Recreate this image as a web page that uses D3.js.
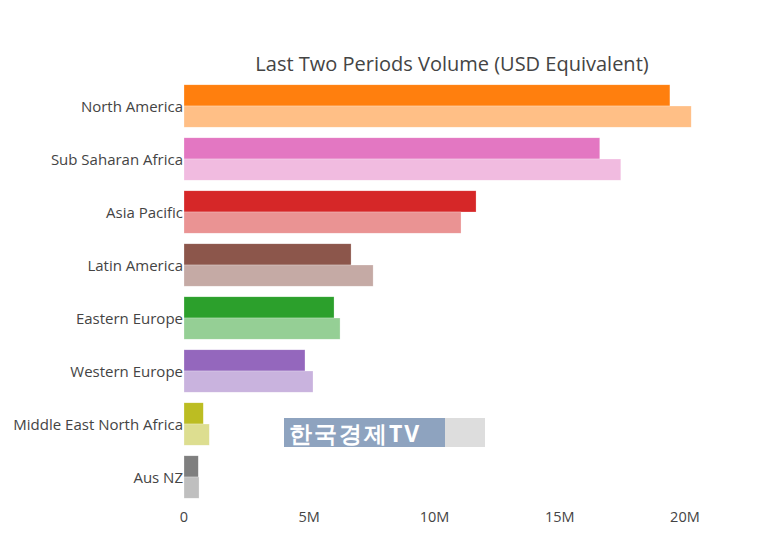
<!DOCTYPE html>
<html>
<head>
<meta charset="utf-8">
<script src="https://cdn.jsdelivr.net/npm/d3@7"></script>
<style>
  body { margin: 0; background: #fff; }
  text { font-family: "Open Sans", sans-serif; }
</style>
</head>
<body>
<div id="chart"></div>
<script>
// data (millions USD)
var regions = ["North America", "Sub Saharan Africa", "Asia Pacific", "Latin America",
               "Eastern Europe", "Western Europe", "Middle East North Africa", "Aus NZ"];
var latest   = [19.4, 16.6, 11.66, 6.67, 5.99, 4.83, 0.77, 0.57];
var previous = [20.25, 17.44, 11.06, 7.55, 6.23, 5.15, 1.01, 0.6];
var colors = ["#ff7f0e", "#e377c2", "#d62728", "#8c564b", "#2ca02c", "#9467bd", "#bcbd22", "#7f7f7f"];
var ticks = [0, 5, 10, 15, 20];

var width = 770, height = 547;
var margin = {top: 79.5, right: 50, bottom: 43.5, left: 184};

var svg = d3.select("#chart").append("svg")
    .attr("width", width)
    .attr("height", height);

var x = d3.scaleLinear().domain([0, 21.4]).range([margin.left, width - margin.right]);
var y = d3.scaleBand().domain(regions).range([margin.top, height - margin.bottom]).paddingInner(0.2).paddingOuter(0.1);

var half = y.bandwidth() / 2;

var rows = regions.map(function(r, i) {
    return {name: r, a: latest[i], b: previous[i], c: colors[i]};
});

var g = svg.append("g");

// darker bar = last period, on top
g.selectAll("rect.a")
    .data(rows)
    .enter()
    .append("rect")
    .attr("class", "a")
    .attr("x", x(0))
    .attr("y", function(d) { return y(d.name); })
    .attr("width", function(d) { return x(d.a) - x(0); })
    .attr("height", half)
    .attr("fill", function(d) { return d.c; })
    .attr("stroke", "#fff")
    .attr("stroke-opacity", 0.5)
    .attr("stroke-width", 0.5);

// lighter bar = period before
g.selectAll("rect.b")
    .data(rows)
    .enter()
    .append("rect")
    .attr("class", "b")
    .attr("x", x(0))
    .attr("y", function(d) { return y(d.name) + half; })
    .attr("width", function(d) { return x(d.b) - x(0); })
    .attr("height", half)
    .attr("fill", function(d) { return d.c; })
    .attr("fill-opacity", 0.5)
    .attr("stroke", "#fff")
    .attr("stroke-opacity", 0.5)
    .attr("stroke-width", 0.5);

// category labels
svg.append("g")
    .selectAll("text")
    .data(regions)
    .enter()
    .append("text")
    .attr("x", margin.left - 1)
    .attr("y", function(d) { return y(d) + y.bandwidth() / 2 + 1; })
    .attr("dy", "0.35em")
    .attr("text-anchor", "end")
    .attr("font-size", 15)
    .attr("fill", "#444")
    .text(function(d) { return d; });

// x tick labels
svg.append("g")
    .selectAll("text")
    .data(ticks)
    .enter()
    .append("text")
    .attr("x", function(d) { return x(d); })
    .attr("y", 522)
    .attr("text-anchor", "middle")
    .attr("font-size", 14.5)
    .attr("fill", "#444")
    .text(function(d) { return d === 0 ? "0" : d + "M"; });

// title
svg.append("text")
    .attr("x", (margin.left + width - margin.right) / 2)
    .attr("y", 71)
    .attr("text-anchor", "middle")
    .attr("font-size", 20)
    .attr("fill", "#444")
    .text("Last Two Periods Volume (USD Equivalent)");

// broadcaster watermark laid over the picture
var wm = svg.append("g");
wm.append("rect").attr("x", 284).attr("y", 418).attr("width", 161).attr("height", 29).attr("fill", "#8ea3bf");
wm.append("rect").attr("x", 445).attr("y", 418).attr("width", 40).attr("height", 29).attr("fill", "#dddddd");
wm.append("text")
    .attr("x", 289)
    .attr("y", 442)
    .attr("font-family", "'Noto Sans CJK KR', sans-serif")
    .attr("font-weight", "bold")
    .attr("font-size", 23)
    .attr("letter-spacing", 2)
    .attr("fill", "#fff")
    .text("한국경제TV");
</script>
</body>
</html>
